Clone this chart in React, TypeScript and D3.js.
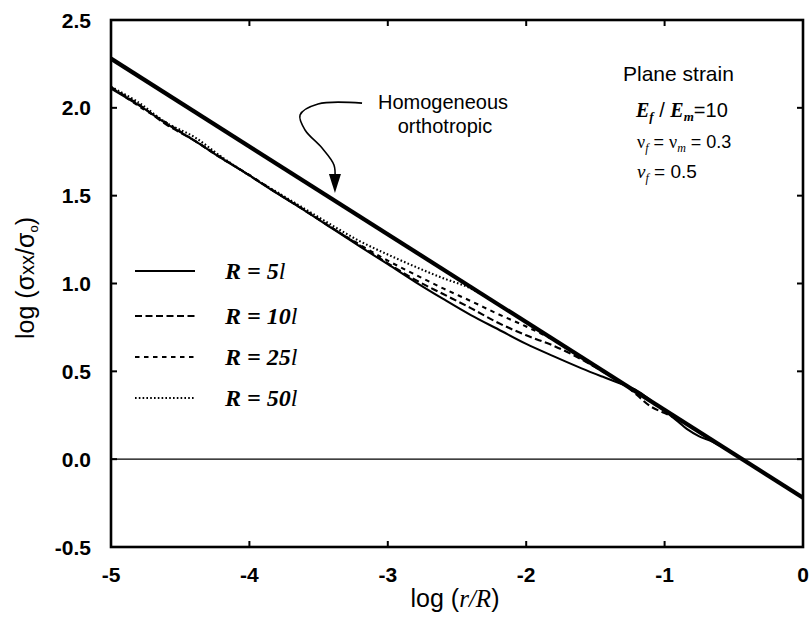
import React from "react";
import * as d3 from "d3";

const xTicks = [-5, -4, -3, -2, -1, 0];
const xTickLabels = ["-5", "-4", "-3", "-2", "-1", "0"];
const yTicks = [-0.5, 0, 0.5, 1, 1.5, 2, 2.5];
const yTickLabels = ["-0.5", "0.0", "0.5", "1.0", "1.5", "2.0", "2.5"];

const homX = [-5, 0];
const homY = [2.28, -0.22];

const curveX = [-5, -4.8, -4.6, -4.4, -4.2, -4.0, -3.8, -3.6, -3.4, -3.2, -3.0, -2.8, -2.6, -2.4, -2.2, -2.0, -1.8, -1.6, -1.45, -1.3, -1.2, -1.1, -1.0, -0.9, -0.84, -0.75, -0.65, -0.5, -0.3, 0];
const r5Y = [2.11, 2.015, 1.91, 1.815, 1.712, 1.615, 1.513, 1.415, 1.312, 1.21, 1.11, 1.008, 0.912, 0.82, 0.738, 0.656, 0.585, 0.517, 0.47, 0.425, 0.39, 0.335, 0.275, 0.212, 0.172, 0.13, 0.098, 0.03, -0.07, -0.22];
const r10Y = [2.115, 2.02, 1.905, 1.815, 1.715, 1.615, 1.515, 1.415, 1.315, 1.215, 1.115, 1.02, 0.94, 0.86, 0.775, 0.705, 0.645, 0.568, 0.5, 0.43, 0.365, 0.3, 0.262, 0.225, 0.2, 0.155, 0.105, 0.03, -0.07, -0.22];
const r25Y = [2.12, 2.01, 1.915, 1.815, 1.712, 1.618, 1.515, 1.418, 1.315, 1.22, 1.13, 1.05, 0.972, 0.9, 0.825, 0.755, 0.678, 0.578, 0.505, 0.432, 0.385, 0.325, 0.278, 0.23, 0.2, 0.155, 0.105, 0.03, -0.07, -0.22];
const r50Y = [2.12, 2.03, 1.915, 1.835, 1.72, 1.615, 1.52, 1.425, 1.33, 1.24, 1.165, 1.095, 1.03, 0.972, 0.878, 0.78, 0.68, 0.58, 0.505, 0.43, 0.38, 0.33, 0.28, 0.23, 0.2, 0.155, 0.105, 0.03, -0.07, -0.22];

const seriesNames = ["R = 5", "R = 10", "R = 25", "R = 50"];
const seriesDash = ["", "7,3.5", "4.5,4.5", "1.6,2.2"];

const arrowX = [-3.186, -3.504, -3.634, -3.598, -3.475, -3.389, -3.382];
const arrowY = [2.027, 2.022, 1.959, 1.874, 1.771, 1.675, 1.6];

export default function App() {
  const x = d3.scaleLinear().domain([-5, 0]).range([111, 803]);
  const y = d3.scaleLinear().domain([-0.5, 2.5]).range([547, 20]);
  const line = d3
    .line<[number, number]>()
    .x((d) => x(d[0]))
    .y((d) => y(d[1]))
    .curve(d3.curveCatmullRom.alpha(0.5));
  const straight = d3
    .line<[number, number]>()
    .x((d) => x(d[0]))
    .y((d) => y(d[1]));
  const series = [r5Y, r10Y, r25Y, r50Y];
  const homPts = homX.map((v, i) => [v, homY[i]] as [number, number]);
  const arrowPts = arrowX.map((v, i) => [v, arrowY[i]] as [number, number]);
  const tipX = x(-3.382);
  const tipY = y(1.515);
  const sans = "'Liberation Sans', Arial, Helvetica, sans-serif";
  const serif = "'Liberation Serif', 'Times New Roman', serif";
  const legendY = [271, 316, 357, 398];

  return (
    <svg
      width={812}
      height={624}
      style={{ position: "absolute", left: 0, top: 0, background: "#fff" }}
    >
      <rect x={0} y={0} width={812} height={624} fill="#fff" />
      <line x1={x(-5)} x2={x(0)} y1={y(0)} y2={y(0)} stroke="#000" strokeWidth={1.3} />
      {series.map((s, i) => (
        <path
          key={i}
          d={line(curveX.map((v, j) => [v, s[j]] as [number, number])) || ""}
          fill="none"
          stroke="#000"
          strokeWidth={2.1}
          strokeDasharray={seriesDash[i] || undefined}
        />
      ))}
      <path d={straight(homPts) || ""} fill="none" stroke="#000" strokeWidth={4.2} />
      <rect
        x={x(-5)}
        y={y(2.5)}
        width={x(0) - x(-5)}
        height={y(-0.5) - y(2.5)}
        fill="none"
        stroke="#000"
        strokeWidth={2.6}
      />
      {xTicks.map((t, i) => (
        <g key={"xt" + i}>
          <line x1={x(t)} x2={x(t)} y1={y(-0.5)} y2={y(-0.5) - 6} stroke="#000" strokeWidth={2} />
          <line x1={x(t)} x2={x(t)} y1={y(2.5)} y2={y(2.5) + 6} stroke="#000" strokeWidth={2} />
          <text
            x={x(t)}
            y={582}
            textAnchor="middle"
            fontFamily={sans}
            fontWeight="bold"
            fontSize={21}
          >
            {xTickLabels[i]}
          </text>
        </g>
      ))}
      {yTicks.map((t, i) => (
        <g key={"yt" + i}>
          <line x1={x(-5)} x2={x(-5) + 6} y1={y(t)} y2={y(t)} stroke="#000" strokeWidth={2} />
          <line x1={x(0)} x2={x(0) - 6} y1={y(t)} y2={y(t)} stroke="#000" strokeWidth={2} />
          <text
            x={91}
            y={y(t) + 7.5}
            textAnchor="end"
            fontFamily={sans}
            fontWeight="bold"
            fontSize={21}
          >
            {yTickLabels[i]}
          </text>
        </g>
      ))}
      <text x={455} y={607} textAnchor="middle" fontFamily={sans} fontSize={25} style={{ whiteSpace: "pre" }}>
        {"log ("}
        <tspan fontFamily={serif} fontStyle="italic">r/R</tspan>)
      </text>
      <text
        transform={`translate(34,278) rotate(-90)`}
        textAnchor="middle"
        fontFamily={sans}
        fontSize={25}
      >
        log (σ<tspan fontSize={20}>xx</tspan>/σ
        <tspan fontSize={13} dy={4}>o</tspan>
        <tspan dy={-4}>)</tspan>
      </text>
      {seriesNames.map((n, i) => (
        <g key={"lg" + i}>
          <line
            x1={135}
            x2={195}
            y1={legendY[i]}
            y2={legendY[i]}
            stroke="#000"
            strokeWidth={2}
            strokeDasharray={seriesDash[i] || undefined}
          />
          <text
            x={225}
            y={legendY[i] + 8}
            fontFamily={serif}
            fontStyle="italic"
            fontWeight="bold"
            fontSize={24}
            style={{ whiteSpace: "pre" }}
          >
            {n}
            <tspan fontWeight="normal">l</tspan>
          </text>
        </g>
      ))}
      <text x={443} y={109} textAnchor="middle" fontFamily={sans} fontSize={20}>
        Homogeneous
      </text>
      <text x={445} y={133} textAnchor="middle" fontFamily={sans} fontSize={20}>
        orthotropic
      </text>
      <path d={line(arrowPts) || ""} fill="none" stroke="#000" strokeWidth={1.6} />
      <path
        d={`M${tipX - 6},${tipY - 19}L${tipX + 6},${tipY - 19}L${tipX},${tipY}Z`}
        fill="#000"
      />
      <text x={623} y={81} fontFamily={sans} fontSize={21}>
        Plane strain
      </text>
      <text x={636} y={117} fontFamily={sans} fontSize={20}>
        <tspan fontFamily={serif} fontStyle="italic" fontWeight="bold">E</tspan>
        <tspan fontFamily={serif} fontStyle="italic" fontWeight="bold" fontSize={13} dy={4}>f</tspan>
        <tspan dy={-4}> / </tspan>
        <tspan fontFamily={serif} fontStyle="italic" fontWeight="bold">E</tspan>
        <tspan fontFamily={serif} fontStyle="italic" fontWeight="bold" fontSize={13} dy={4}>m</tspan>
        <tspan dy={-4}>=10</tspan>
      </text>
      <text x={637} y={148} fontFamily={sans} fontSize={18}>
        <tspan fontFamily={serif}>ν</tspan>
        <tspan fontFamily={serif} fontStyle="italic" fontSize={12} dy={4}>f</tspan>
        <tspan dy={-4}> = </tspan>
        <tspan fontFamily={serif}>ν</tspan>
        <tspan fontFamily={serif} fontStyle="italic" fontSize={12} dy={4}>m</tspan>
        <tspan dy={-4}> = 0.3</tspan>
      </text>
      <text x={637} y={178} fontFamily={sans} fontSize={19}>
        <tspan fontFamily={serif} fontStyle="italic">v</tspan>
        <tspan fontFamily={serif} fontStyle="italic" fontSize={12} dy={4}>f</tspan>
        <tspan dy={-4}> = 0.5</tspan>
      </text>
    </svg>
  );
}
